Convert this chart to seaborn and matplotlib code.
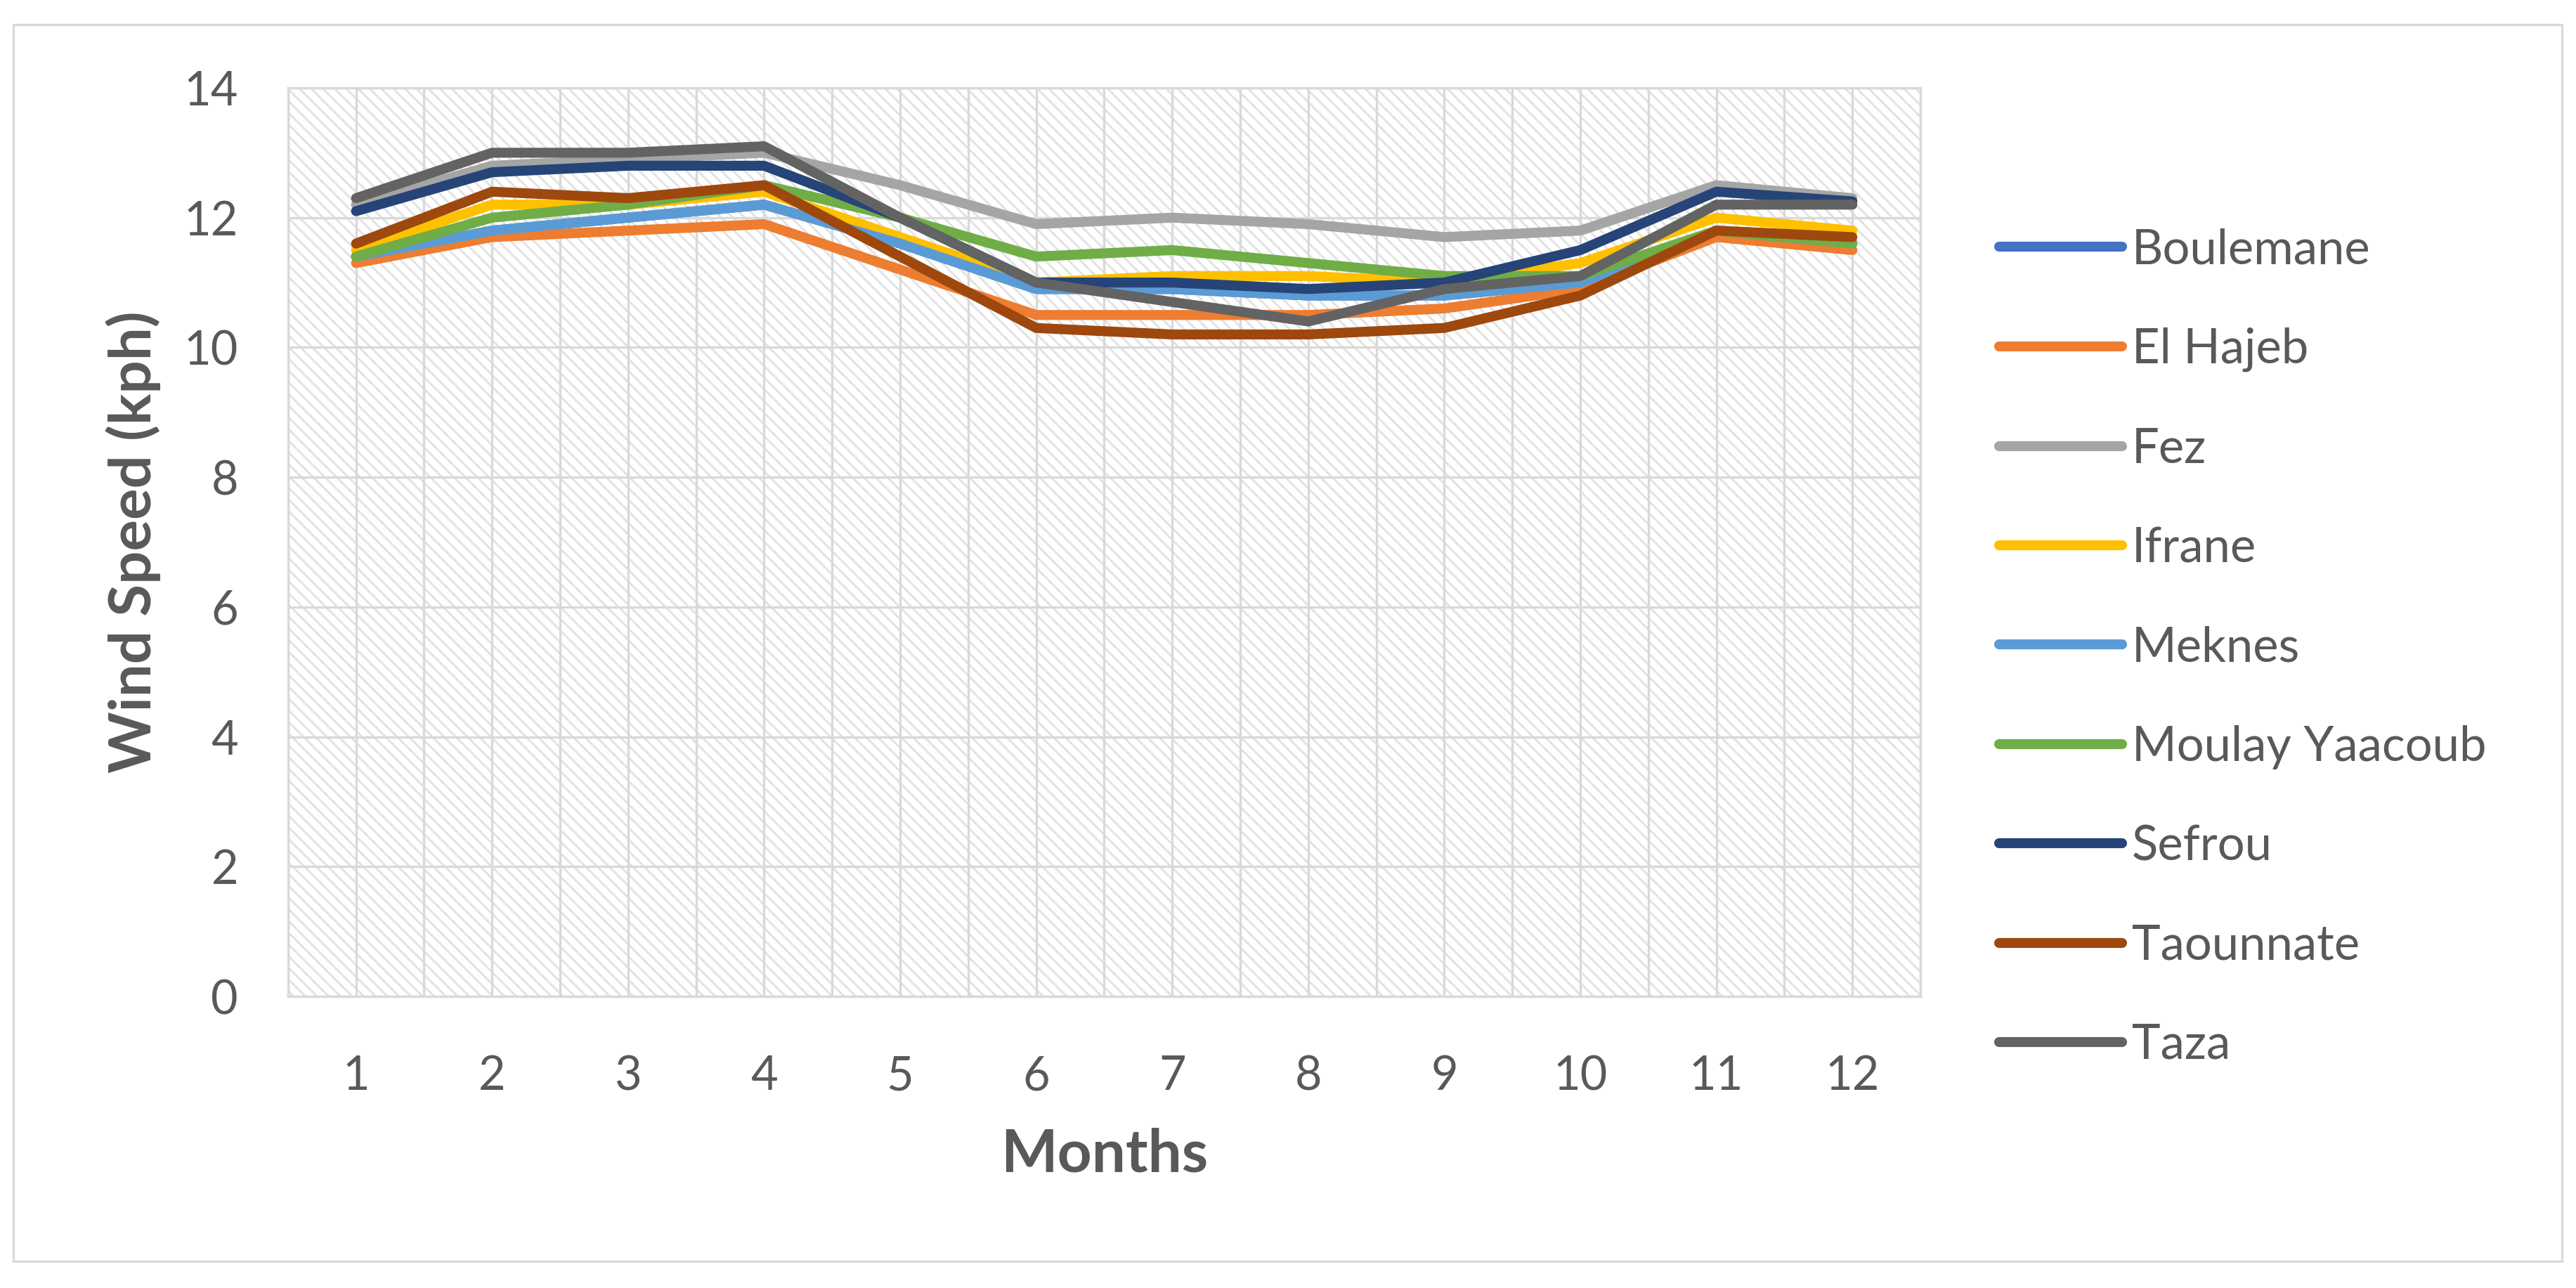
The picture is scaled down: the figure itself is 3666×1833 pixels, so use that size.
import numpy as np
import pandas as pd
import matplotlib
matplotlib.use("Agg")
import matplotlib.pyplot as plt
import seaborn as sns
from matplotlib.patches import Rectangle

# Monthly mean wind speed (kph) per station
months = list(range(1, 13))
boulemane = [11.4, 11.8, 12.0, 12.2, 11.6, 10.9, 10.9, 10.8, 10.8, 11.0, 11.8, 11.6]
el_hajeb = [11.3, 11.7, 11.8, 11.9, 11.2, 10.5, 10.5, 10.5, 10.6, 10.9, 11.7, 11.5]
fez = [12.2, 12.8, 12.9, 13.0, 12.5, 11.9, 12.0, 11.9, 11.7, 11.8, 12.5, 12.3]
ifrane = [11.5, 12.2, 12.2, 12.4, 11.7, 11.0, 11.1, 11.1, 11.0, 11.3, 12.0, 11.8]
meknes = [11.4, 11.8, 12.0, 12.2, 11.6, 10.9, 10.9, 10.8, 10.8, 11.0, 11.8, 11.6]
moulay_yaacoub = [11.4, 12.0, 12.2, 12.5, 12.0, 11.4, 11.5, 11.3, 11.1, 11.1, 11.8, 11.6]
sefrou = [12.1, 12.7, 12.8, 12.8, 12.0, 11.0, 11.0, 10.9, 11.0, 11.5, 12.4, 12.25]
taounnate = [11.6, 12.4, 12.3, 12.5, 11.4, 10.3, 10.2, 10.2, 10.3, 10.8, 11.8, 11.7]
taza = [12.3, 13.0, 13.0, 13.1, 12.0, 11.0, 10.7, 10.4, 10.9, 11.1, 12.2, 12.2]

stations = ["Boulemane", "El Hajeb", "Fez", "Ifrane", "Meknes",
            "Moulay Yaacoub", "Sefrou", "Taounnate", "Taza"]
series = [boulemane, el_hajeb, fez, ifrane, meknes,
          moulay_yaacoub, sefrou, taounnate, taza]
colors = ["#4472C4", "#ED7D31", "#A5A5A5", "#FFC000", "#5B9BD5",
          "#70AD47", "#264478", "#9E480E", "#636363"]

df = pd.DataFrame({
    "Month": months * len(stations),
    "Speed": np.concatenate(series),
    "Station": np.repeat(stations, len(months)),
})

sns.set_theme(style="white")
plt.rcParams["font.family"] = ["Lato", "DejaVu Sans"]
plt.rcParams["hatch.linewidth"] = 0.7
text_col = "#595959"
grid_col = "#D9D9D9"

fig = plt.figure(figsize=(12.22, 6.11), dpi=300)
ax = fig.add_axes([0.1118, 0.2264, 0.6337, 0.7054])

# hatched plot-area background
ax.add_patch(Rectangle((0, 0), 1, 1, transform=ax.transAxes, facecolor="white",
                       edgecolor="#E2E2E2", hatch="\\\\\\\\\\\\", lw=0, zorder=0))

sns.lineplot(data=df, x="Month", y="Speed", hue="Station", hue_order=stations,
             palette=colors, linewidth=3.4, ax=ax, zorder=3)
for ln in ax.lines:
    ln.set_solid_capstyle("round")

handles, labels = ax.get_legend_handles_labels()
ax.get_legend().remove()

ax.set_xlim(0.5, 12.5)
ax.set_ylim(0, 14)
ax.set_xticks(months)
ax.set_xticks(np.arange(0.5, 13, 1), minor=True)
ax.set_yticks(range(0, 15, 2))
ax.set_axisbelow(True)
ax.grid(True, which="both", color=grid_col, lw=0.8)
ax.tick_params(which="both", length=0)
ax.tick_params(axis="y", pad=17, labelsize=16, labelcolor=text_col)
ax.tick_params(axis="x", pad=20, labelsize=16, labelcolor=text_col)
for s in ax.spines.values():
    s.set_color(grid_col)
    s.set_linewidth(0.8)

ax.set_xlabel("Months", fontsize=20.5, fontweight="bold", color=text_col)
ax.set_ylabel("Wind Speed (kph)", fontsize=20, fontweight="bold", color=text_col)
ax.xaxis.set_label_coords(0.5, -0.174)
ax.yaxis.set_label_coords(-0.0947, 0.5)
ax.xaxis.label.set_va("center")
ax.yaxis.label.set_va("center")

for h in handles:
    h.set_linewidth(3.4)
    h.set_solid_capstyle("round")
fig.legend(handles, labels, loc="upper left", bbox_to_anchor=(0.776, 0.823),
           frameon=False, fontsize=16.5, handlelength=2.55, handletextpad=0.2,
           labelspacing=1.14, borderpad=0, borderaxespad=0, labelcolor=text_col)

# outer chart border
fig.patches.append(Rectangle((19 / 3666, 1 - 1795 / 1833), (3646 - 19) / 3666,
                             (1795 - 35) / 1833, transform=fig.transFigure,
                             fill=False, edgecolor=grid_col, lw=0.8))

fig.savefig("out.png", dpi=300, facecolor="white")
